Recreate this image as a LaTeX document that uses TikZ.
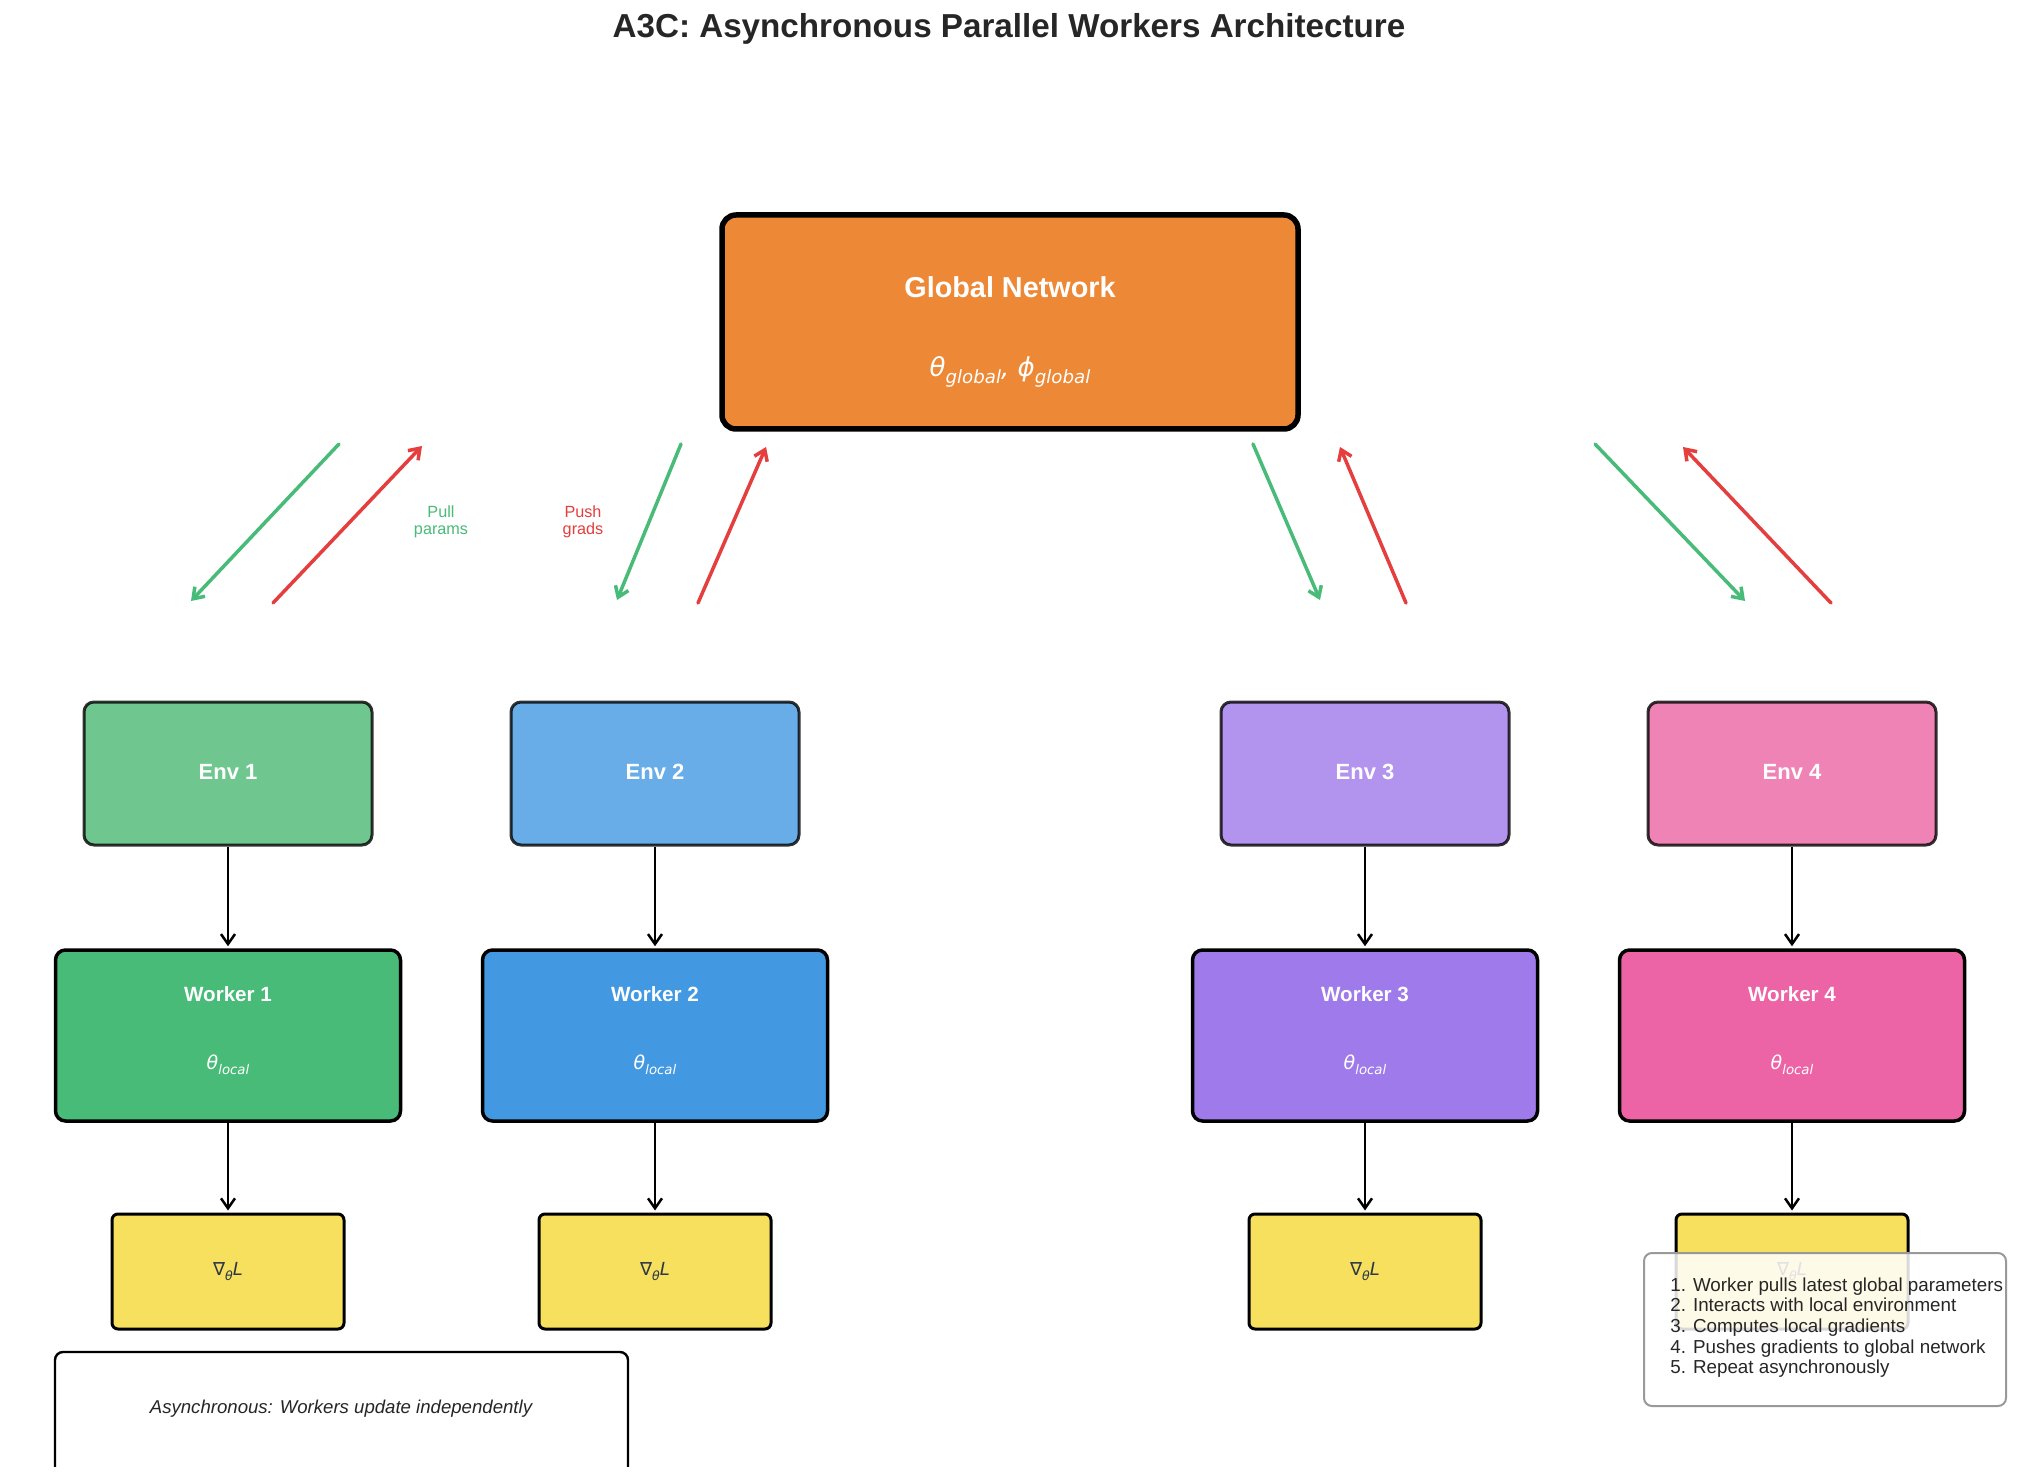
\documentclass[tikz,border=0pt]{standalone}
\usepackage{fontspec}
\usepackage{graphicx}
\setmainfont{Liberation Sans}
\newfontfamily\djv{DejaVu Sans}
\usetikzlibrary{arrows.meta,calc}
\definecolor{cglob}{HTML}{ED8936}
\definecolor{cwa}{HTML}{48BB78}
\definecolor{cwb}{HTML}{4299E1}
\definecolor{cwc}{HTML}{9F7AEA}
\definecolor{cwd}{HTML}{ED64A6}
\definecolor{cea}{HTML}{6FC78F}
\definecolor{ceb}{HTML}{68ADE8}
\definecolor{cec}{HTML}{B294EE}
\definecolor{ced}{HTML}{F083B5}
\definecolor{cgrad}{HTML}{F6E05E}
\definecolor{cred}{HTML}{E53E3E}
\definecolor{cgreen}{HTML}{48BB78}
\definecolor{ctitle}{HTML}{262626}
\definecolor{cdark}{HTML}{2D3748}
\definecolor{clegend}{HTML}{999999}
\newcommand\msub[1]{\raisebox{-0.28em}{\scalebox{0.7}{#1}}}
\tikzset{
  gbox/.style={draw=black, fill=cglob, line width=2.75pt, rounded corners=7pt, inner sep=0pt,
    minimum width=288pt, minimum height=107pt},
  envbox/.style={draw=black, draw opacity=0.8, line width=1.5pt, rounded corners=5pt, inner sep=0pt,
    minimum width=144pt, minimum height=71.5pt},
  workbox/.style={draw=black, line width=1.75pt, rounded corners=5pt, inner sep=0pt,
    minimum width=172.5pt, minimum height=85.5pt},
  gradbox/.style={draw=black, fill=cgrad, line width=1.5pt, rounded corners=3pt, inner sep=0pt,
    minimum width=116pt, minimum height=57.5pt},
  envlab/.style={text=white, font=\fontsize{11}{13}\selectfont\bfseries},
  worklab/.style={text=white, font=\fontsize{10.3}{12}\selectfont\bfseries},
  thlab/.style={text=white, font=\fontsize{9.5}{11}\selectfont\djv\itshape},
  gradlab/.style={text=cdark, font=\fontsize{9}{11}\selectfont\djv},
  down/.style={-{Straight Barb[length=5pt,width=7pt]}, line width=1.25pt, black},
  pullarr/.style={-{Straight Barb[length=5pt,width=7pt]}, line width=1.75pt, cgreen, line cap=round},
  pusharr/.style={-{Straight Barb[length=5pt,width=7pt]}, line width=1.75pt, cred, line cap=round},
  smalllab/.style={align=center, font=\fontsize{8.1}{8.5}\selectfont, inner sep=0pt},
}
\begin{document}
\begin{tikzpicture}[x=0.5pt,y=-0.5pt]
\useasboundingbox[fill=white] (0,0) rectangle (2019,1481);

% title
\node[text=ctitle, font=\fontsize{16.6}{20}\selectfont\bfseries] (title) at (1009,29)
  {A3C: Asynchronous Parallel Workers Architecture};

% global network
\node[gbox] (glob) at (1010,322) {};
\node[text=white, font=\fontsize{14.4}{17}\selectfont\bfseries] (globt) at ($(glob)+(0,-35)$) {Global Network};
\node[text=white, font=\fontsize{13}{15}\selectfont\djv\itshape] (globp) at ($(glob)+(0,50)$)
  {θ\msub{global}, ϕ\msub{global}};

% envs
\node[envbox, fill=cea] (env1) at (228,773.5) {};
\node[envbox, fill=ceb] (env2) at (655,773.5) {};
\node[envbox, fill=cec] (env3) at (1365,773.5) {};
\node[envbox, fill=ced] (env4) at (1792,773.5) {};
\foreach \i in {1,...,4}{
  \node[envlab] (env\i t) at ($(env\i)+(0,-2)$) {Env \i};
}

% workers
\node[workbox, fill=cwa] (w1) at (228,1035.5) {};
\node[workbox, fill=cwb] (w2) at (655,1035.5) {};
\node[workbox, fill=cwc] (w3) at (1365,1035.5) {};
\node[workbox, fill=cwd] (w4) at (1792,1035.5) {};
\foreach \i in {1,...,4}{
  \node[worklab] (w\i t) at ($(w\i)+(0,-41)$) {Worker \i};
  \node[thlab] (w\i p) at ($(w\i)+(0,29)$) {θ\msub{local}};
}

% gradients
\node[gradbox] (g1) at (228,1271.5) {};
\node[gradbox] (g2) at (655,1271.5) {};
\node[gradbox] (g3) at (1365,1271.5) {};
\node[gradbox] (g4) at (1792,1271.5) {};
\foreach \i in {1,...,4}{
  \node[gradlab] (g\i t) at (g\i) {∇\msub{\itshape θ}{\itshape L}};
  \draw[down] (env\i.south) -- ($(w\i.north)+(0,-2)$);
  \draw[down] (w\i.south) -- ($(g\i.north)+(0,-2)$);
}

% pull / push arrows
\coordinate (gs1) at (339,444);  \coordinate (ge1) at (191,601);
\coordinate (rs1) at (273,603);  \coordinate (re1) at (422,446);
\coordinate (gs2) at (681,444);  \coordinate (ge2) at (617,600);
\coordinate (rs2) at (698,603);  \coordinate (re2) at (766,447);
\coordinate (gs3) at (1253,444); \coordinate (ge3) at (1320,600);
\coordinate (rs3) at (1406,603); \coordinate (re3) at (1340,447);
\coordinate (gs4) at (1595,444); \coordinate (ge4) at (1745,601);
\coordinate (rs4) at (1831,603); \coordinate (re4) at (1683,447);
\foreach \i in {1,...,4}{
  \draw[pullarr] (gs\i) -- (ge\i);
  \draw[pusharr] (rs\i) -- (re\i);
}
\node[smalllab, text=cgreen] (pull) at (441,522) {Pull\\params};
\node[smalllab, text=cred] (push) at (583,522) {Push\\grads};

% asynchronous note (clipped at bottom)
\begin{scope}
  \clip (0,0) rectangle (2019,1466);
  \node[draw=black, line width=1.2pt, rounded corners=4pt, fill=white, inner sep=0pt,
    minimum width=286.5pt, minimum height=94pt] (async) at (341.5,1446) {};
\end{scope}
\node[text=ctitle, font=\fontsize{9.3}{11}\selectfont\itshape] (asynct) at (341,1409)
  {Asynchronous: Workers update independently};

% legend
\node[draw=clegend, line width=1pt, fill=white, fill opacity=0.85, rounded corners=4pt,
  inner sep=0pt, minimum width=181pt, minimum height=76.5pt] (legend) at (1825,1329.5) {};
\node[anchor=north west, align=left, inner sep=0pt, text=ctitle,
  font=\fontsize{9.4}{10.35}\selectfont] (legendt) at (1670,1277)
  {1. Worker pulls latest global parameters\\
   2. Interacts with local environment\\
   3. Computes local gradients\\
   4. Pushes gradients to global network\\
   5. Repeat asynchronously};
\end{tikzpicture}
\end{document}
